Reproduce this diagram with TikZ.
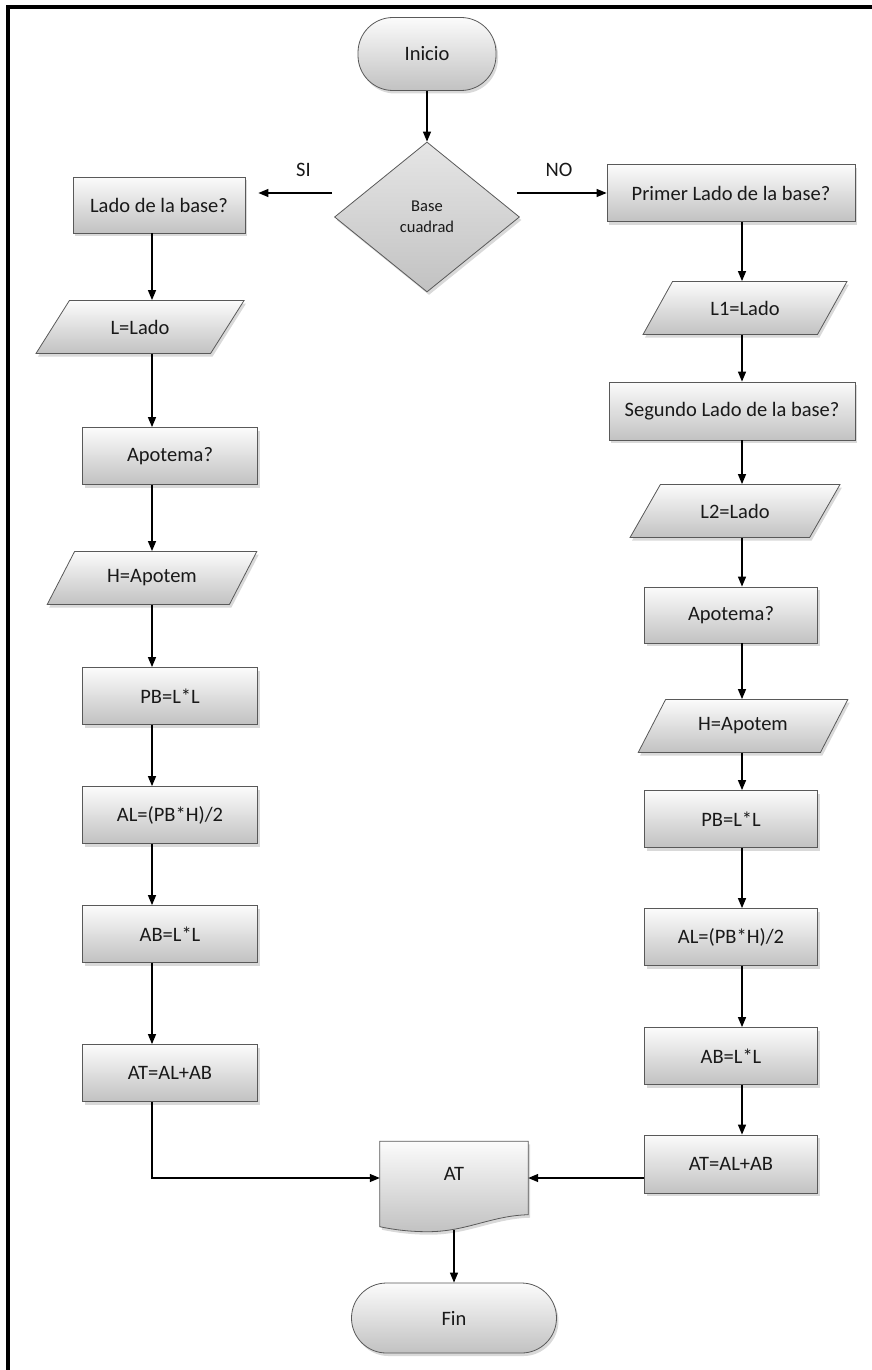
\documentclass[tikz,border=0pt]{standalone}
\usepackage{fontspec}
\setmainfont{Carlito}
\usetikzlibrary{shapes.geometric,shadows,arrows.meta,backgrounds}
\tikzset{
  x=1pt, y=1pt,
  shd/.style={drop shadow={opacity=0.3, shadow xshift=2pt, shadow yshift=-3pt}},
  base/.style={draw=gray!70!black, line width=0.8pt, text=black!90, font=\fontsize{20.5}{24}\selectfont, inner sep=2pt, top color=gray!3, bottom color=gray!48, shd},
  procbox/.style={base, rectangle, minimum width=175pt, minimum height=57pt},
  iobox/.style={base, trapezium, trapezium left angle=51, trapezium right angle=129, trapezium stretches=true, minimum width=210pt, minimum height=53pt},
  termbox/.style={base, rectangle, rounded corners=35pt},
  decbox/.style={base, diamond, top color=gray!20, bottom color=gray!48, minimum width=185pt, minimum height=150pt, inner sep=0pt, align=center, font=\fontsize{16.5}{21}\selectfont},
  arr/.style={draw=black, line width=1.3pt, -{Triangle[length=10pt,width=8pt]}},
  lbl/.style={text=black!90, font=\fontsize{20.5}{24}\selectfont}
}
\begin{document}
\begin{tikzpicture}
\useasboundingbox (0,0) rectangle (872,-1370);
\draw[line width=3.4pt, black] (8,-1372) -- (8,-7) -- (874,-7);

\coordinate (xl) at (152,0);
\coordinate (xr) at (742,0);

% top
\node[termbox, minimum width=138pt, minimum height=73pt] (inicio) at (427,-54) {Inicio};
\node[decbox] (dec) at (427,-217) {Base\\cuadrad};

% left column
\node[procbox, minimum width=172pt, minimum height=56pt] (lado) at (159,-205) {Lado de la base?};
\node[iobox] (ll) at (140,-327) {L=Lado};
\node[procbox] (apo) at (170,-456) {Apotema?};
\node[iobox] (hl) at (152,-578) {H=Apotem};
\node[procbox] (pbl) at (170,-696) {PB=L*L};
\node[procbox] (all) at (170,-815) {AL=(PB*H)/2};
\node[procbox] (abl) at (170,-934) {AB=L*L};
\node[procbox] (atl) at (170,-1073) {AT=AL+AB};

% right column
\node[procbox, minimum width=248pt] (primer) at (731,-193) {Primer Lado de la base?};
\node[iobox, minimum width=204pt] (l1) at (745,-308) {L1=Lado};
\node[procbox, minimum width=246pt, minimum height=58pt] (segundo) at (732,-411) {Segundo Lado de la base?};
\node[iobox] (l2) at (735,-511) {L2=Lado};
\node[procbox, minimum width=173pt, minimum height=56pt] (apo2) at (731,-615) {Apotema?};
\node[iobox] (h2) at (743,-726) {H=Apotem};
\node[procbox, minimum width=173pt] (pb2) at (731,-819) {PB=L*L};
\node[procbox, minimum width=173pt] (al2) at (731,-937) {AL=(PB*H)/2};
\node[procbox, minimum width=173pt] (ab2) at (731,-1056) {AB=L*L};
\node[procbox, minimum width=173pt, minimum height=58pt] (at2) at (731,-1164) {AT=AL+AB};

% output document
\node[rectangle, minimum width=148pt, minimum height=73pt, inner sep=0pt, text=black!90, font=\fontsize{20.5}{24}\selectfont] (atdoc) at (454,-1178) {\raisebox{8pt}{AT}};
\begin{pgfonlayer}{background}
\path[draw=gray!70!black, line width=0.8pt, top color=gray!3, bottom color=gray!48, shd]
  (atdoc.north west) -- (atdoc.north east) -- (atdoc.south east)
  .. controls ([xshift=-37pt,yshift=-1pt]atdoc.south east) and ([xshift=-62pt,yshift=-17pt]atdoc.south east) .. ([xshift=48pt,yshift=-17pt]atdoc.south west)
  .. controls ([xshift=30pt,yshift=-17pt]atdoc.south west) and ([xshift=14pt,yshift=-15pt]atdoc.south west) .. ([yshift=-12pt]atdoc.south west)
  -- cycle;
\end{pgfonlayer}
\node[termbox, minimum width=205pt, minimum height=70pt] (fin) at (454,-1318) {Fin};

% connectors
\draw[arr] (inicio.south) -- (dec.north);
\coordinate (siS) at ([shift={(-2,24)}]dec.west);
\coordinate (noS) at ([shift={(-3,24)}]dec.east);
\draw[arr, shorten >=13pt] (siS) -- node[lbl, pos=0.33, yshift=23pt] {SI} (siS -| lado.east);
\draw[arr] (noS) -- node[lbl, pos=0.47, yshift=23pt] {NO} (noS -| primer.west);

\draw[arr] (lado.south -| xl) -- (ll.north -| xl);
\draw[arr] (ll.south -| xl) -- (apo.north -| xl);
\draw[arr] (apo.south -| xl) -- (hl.north -| xl);
\draw[arr] (hl.south -| xl) -- (pbl.north -| xl);
\draw[arr] (pbl.south -| xl) -- (all.north -| xl);
\draw[arr] (all.south -| xl) -- (abl.north -| xl);
\draw[arr] (abl.south -| xl) -- (atl.north -| xl);
\draw[arr] (atl.south -| xl) |- (atdoc.west);

\draw[arr] (primer.south -| xr) -- (l1.north -| xr);
\draw[arr] (l1.south -| xr) -- (segundo.north -| xr);
\draw[arr] (segundo.south -| xr) -- (l2.north -| xr);
\draw[arr] (l2.south -| xr) -- (apo2.north -| xr);
\draw[arr] (apo2.south -| xr) -- (h2.north -| xr);
\draw[arr] (h2.south -| xr) -- (pb2.north -| xr);
\draw[arr] (pb2.south -| xr) -- (al2.north -| xr);
\draw[arr] (al2.south -| xr) -- (ab2.north -| xr);
\draw[arr] (ab2.south -| xr) -- (at2.north -| xr);
\draw[arr] (atdoc.east -| at2.west) -- (atdoc.east);

\draw[arr] ([yshift=-15pt]atdoc.south) -- (fin.north);
\end{tikzpicture}
\end{document}
